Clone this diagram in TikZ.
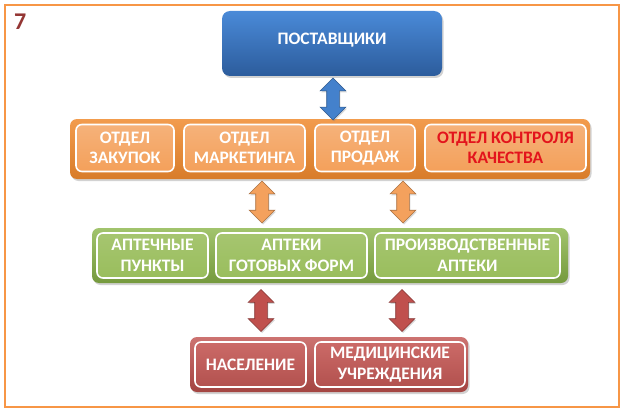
\documentclass[tikz,border=0pt]{standalone}
\usepackage{fontspec}
\setmainfont{Carlito}
\usetikzlibrary{shapes.arrows,shadows}
\definecolor{frameor}{HTML}{F79646}
\definecolor{bluetop}{HTML}{4A8AD8}
\definecolor{bluebot}{HTML}{2C5C9C}
\definecolor{orbar}{HTML}{F08A2E}
\definecolor{orin}{HTML}{F4A462}
\definecolor{grbar}{HTML}{8AB548}
\definecolor{grin}{HTML}{9CBF60}
\definecolor{rdbar}{HTML}{C0504D}
\definecolor{rdin}{HTML}{C65A57}
\definecolor{numred}{HTML}{943634}
\definecolor{qred}{HTML}{E3141C}
\tikzset{
  lbl/.style={text=white, font=\fontsize{17.5}{20.5}\selectfont\bfseries, align=center},
  bar/.style={rounded corners=7pt, draw=none, drop shadow={shadow xshift=1.5pt,shadow yshift=-2pt,opacity=0.35}},
  inbox/.style={rounded corners=6pt, draw=white, line width=1.6pt, inner sep=0pt},
  dblarrow/.style={double arrow, shape border rotate=90, draw=#1!70!black, line width=0.6pt, fill=#1,
     minimum height=42pt, double arrow head extend=6.5pt, inner sep=6pt,
     drop shadow={shadow xshift=1pt,shadow yshift=-1.5pt,opacity=0.3}},
}
\begin{document}
\begin{tikzpicture}[x=1pt,y=-1pt]
\useasboundingbox (0,0) rectangle (624,412);
\fill[white] (0,0) rectangle (624,412);
\draw[frameor, line width=2pt] (5,5) rectangle (619,407);
\node[text=numred, font=\fontsize{24}{24}\selectfont\bfseries, anchor=north west, inner sep=0pt] (num) at (14,14) {7};

% top box
\node[bar, rounded corners=8pt, top color=bluetop, bottom color=bluebot, minimum width=220pt, minimum height=65pt, inner sep=0pt] (sup) at (332,43.5) {};
\node[lbl] (supt) at (332,40) {ПОСТАВЩИКИ};

% orange bar
\node[bar, top color=orbar!85!white, bottom color=orbar!90!black, minimum width=520pt, minimum height=60pt, inner sep=0pt] (obar) at (330,149) {};
\node[inbox, top color=orin!85!white, bottom color=orin!85!orbar, minimum width=98pt, minimum height=47pt] (o1) at (125,148) {};
\node[inbox, top color=orin!85!white, bottom color=orin!85!orbar, minimum width=121pt, minimum height=47pt] (o2) at (244.5,148) {};
\node[inbox, top color=orin!85!white, bottom color=orin!85!orbar, minimum width=100pt, minimum height=47pt] (o3) at (365,148) {};
\node[inbox, top color=orin!85!white, bottom color=orin!85!orbar, minimum width=161pt, minimum height=47pt] (o4) at (505.5,148) {};
\node[lbl] at (o1) {ОТДЕЛ\\ЗАКУПОК};
\node[lbl] at (o2) {ОТДЕЛ\\МАРКЕТИНГА};
\node[lbl] at (o3) {ОТДЕЛ\\ПРОДАЖ};
\node[lbl, text=qred] at (o4) {ОТДЕЛ КОНТРОЛЯ\\КАЧЕСТВА};

% green bar
\node[bar, top color=grbar!80!white, bottom color=grbar!85!black, minimum width=476pt, minimum height=55pt, inner sep=0pt] (gbar) at (330,255.5) {};
\node[inbox, top color=grin!90!white, bottom color=grin!85!grbar, minimum width=111pt, minimum height=45pt] (g1) at (152.5,255.5) {};
\node[inbox, top color=grin!90!white, bottom color=grin!85!grbar, minimum width=151pt, minimum height=45pt] (g2) at (291.5,255.5) {};
\node[inbox, top color=grin!90!white, bottom color=grin!85!grbar, minimum width=185pt, minimum height=45pt] (g3) at (467.5,255.5) {};
\node[lbl] at (g1) {АПТЕЧНЫЕ\\ПУНКТЫ};
\node[lbl] at (g2) {АПТЕКИ\\ГОТОВЫХ ФОРМ};
\node[lbl] at (g3) {ПРОИЗВОДСТВЕННЫЕ\\АПТЕКИ};

% red bar
\node[bar, top color=rdbar!80!white, bottom color=rdbar!85!black, minimum width=278pt, minimum height=55pt, inner sep=0pt] (rbar) at (329,364.5) {};
\node[inbox, top color=rdin!90!white, bottom color=rdin!90!black, minimum width=111pt, minimum height=45pt] (r1) at (250.5,364.5) {};
\node[inbox, top color=rdin!90!white, bottom color=rdin!90!black, minimum width=150pt, minimum height=45pt] (r2) at (390,364.5) {};
\node[lbl] at (r1) {НАСЕЛЕНИЕ};
\node[lbl] at (r2) {МЕДИЦИНСКИЕ\\УЧРЕЖДЕНИЯ};

% arrows
\node[dblarrow=bluetop!80!bluebot] (a1) at (333,99) {};
\node[dblarrow=orin!90!orbar] (a2) at (262,202) {};
\node[dblarrow=orin!90!orbar] (a3) at (403,202) {};
\node[dblarrow=rdbar] (a4) at (261,310.5) {};
\node[dblarrow=rdbar] (a5) at (402,310.5) {};
\end{tikzpicture}
\end{document}
